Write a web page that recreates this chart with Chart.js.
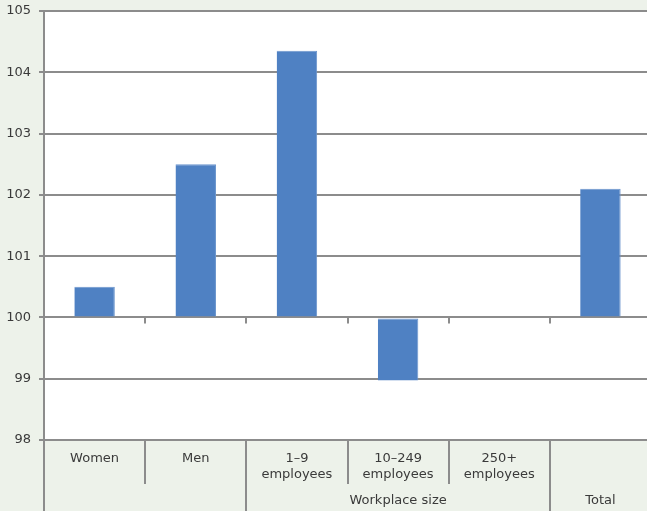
<!DOCTYPE html>
<html>
<head>
<meta charset="utf-8">
<script src="https://cdn.jsdelivr.net/npm/chart.js@4/dist/chart.umd.min.js"></script>
<style>
  html, body { margin: 0; padding: 0; overflow: hidden; background: #edf2ea; }
  #wrap { position: absolute; left: 0; top: 0; width: 652px; height: 511px; }
</style>
</head>
<body>
<div id="wrap"><canvas id="c" width="652" height="511"></canvas></div>
<script>
// Index values by group (100 = reference level)
const categories = [['Women'], ['Men'], ['1–9', 'employees'], ['10–249', 'employees'], ['250+', 'employees'], ['']];
const values = [100.5, 102.5, 104.35, 98.97, 100, 102.1];
const baseline = 100;
const yTicks = [98, 99, 100, 101, 102, 103, 104, 105];
const groups = [
  { label: '', from: 0, to: 1 },
  { label: 'Workplace size', from: 2, to: 4 },
  { label: 'Total', from: 5, to: 5 }
];

const LINE = '#8c8c8c';
const TEXT = '#3a3a3a';
const FONT = '13px "DejaVu Sans", Verdana, sans-serif';

const frame = {
  id: 'frame',
  beforeDraw(chart) {
    const { ctx, chartArea: a } = chart;
    ctx.save();
    ctx.fillStyle = '#edf2ea';
    ctx.fillRect(0, 0, chart.width, chart.height);
    ctx.fillStyle = '#ffffff';
    ctx.fillRect(a.left, a.top, a.right - a.left, a.bottom - a.top);
    ctx.restore();
  },
  afterDraw(chart) {
    const { ctx, chartArea: a } = chart;
    const x = chart.scales.x, y = chart.scales.y;
    const yBase = y.getPixelForValue(baseline);
    const n = categories.length;
    const boundary = i => (x.getPixelForValue(i) + x.getPixelForValue(i + 1)) / 2;
    ctx.save();
    ctx.strokeStyle = LINE;
    ctx.lineWidth = 2;
    // small tick marks on the reference line
    for (let i = 0; i < n - 1; i++) {
      const bx = Math.round(boundary(i));
      ctx.beginPath();
      ctx.moveTo(bx, yBase);
      ctx.lineTo(bx, yBase + 6);
      ctx.stroke();
    }
    // category table below the plot
    const groupEnds = new Set(groups.map(g => g.to));
    for (let i = 0; i < n - 1; i++) {
      const bx = Math.round(boundary(i));
      const full = groupEnds.has(i);
      ctx.beginPath();
      ctx.moveTo(bx, a.bottom);
      ctx.lineTo(bx, full ? chart.height : a.bottom + 44);
      ctx.stroke();
    }
    ctx.beginPath();
    ctx.moveTo(a.left, a.bottom);
    ctx.lineTo(a.left, chart.height);
    ctx.stroke();

    ctx.fillStyle = TEXT;
    ctx.font = FONT;
    ctx.textAlign = 'center';
    ctx.textBaseline = 'middle';
    categories.forEach((lines, i) => {
      const cx = x.getPixelForValue(i);
      lines.forEach((t, k) => ctx.fillText(t, cx, a.bottom + 19 + k * 16));
    });
    groups.forEach(g => {
      const left = g.from === 0 ? a.left : boundary(g.from - 1);
      const right = g.to === n - 1 ? a.right : boundary(g.to);
      ctx.fillText(g.label, (left + right) / 2, a.bottom + 61);
    });
    ctx.restore();
  }
};

new Chart(document.getElementById('c'), {
  type: 'bar',
  data: {
    labels: categories.map(c => c.join(' ')),
    datasets: [{
      data: values,
      base: baseline,
      backgroundColor: '#4f81c3',
      borderColor: '#6b95cd',
      borderWidth: { top: 1, right: 1, left: 0, bottom: 0 },
      borderSkipped: false,
      barPercentage: 0.4,
      categoryPercentage: 1.0
    }]
  },
  options: {
    responsive: false,
    animation: false,
    layout: { padding: { top: 11, bottom: 71, right: 1, left: 0 } },
    plugins: { legend: { display: false }, tooltip: { enabled: false } },
    scales: {
      x: { type: 'category', display: false, offset: true },
      y: {
        min: yTicks[0],
        max: yTicks[yTicks.length - 1],
        afterBuildTicks(scale) { scale.ticks = yTicks.map(v => ({ value: v })); },
        afterFit(scale) {
          scale.width = 44;
          scale.paddingTop = 0;
          scale.paddingBottom = 0;
        },
        border: { color: LINE, width: 2 },
        grid: { color: LINE, lineWidth: 2, tickLength: 5, drawTicks: true },
        ticks: {
          color: TEXT,
          padding: 8,
          font: { family: '"DejaVu Sans", Verdana, sans-serif', size: 13 }
        }
      }
    }
  },
  plugins: [frame]
});
</script>
</body>
</html>
